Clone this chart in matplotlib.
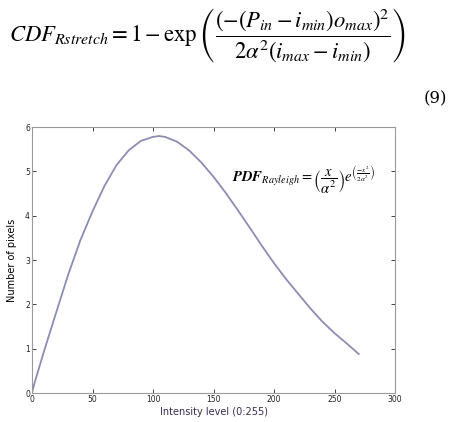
"""Rayleigh-shaped PDF curve with the CDF stretch equation above it."""

import matplotlib

matplotlib.use("Agg")
import matplotlib.pyplot as plt

plt.rcParams["mathtext.fontset"] = "stix"

INTENSITY = [0, 2, 10, 20, 30, 40, 50, 60, 70, 80, 90, 100, 105, 110, 120,
             130, 140, 150, 160, 170, 180, 190, 200, 210, 220, 230, 240,
             250, 260, 270]
PIXELS = [0.0, 0.22, 0.95, 1.82, 2.68, 3.45, 4.1, 4.68, 5.15, 5.48, 5.69,
          5.78, 5.80, 5.78, 5.67, 5.47, 5.2, 4.88, 4.52, 4.13, 3.73, 3.32,
          2.93, 2.57, 2.24, 1.91, 1.61, 1.35, 1.12, 0.88]

X_TICKS = [0, 50, 100, 150, 200, 250, 300]
Y_TICKS = [0, 1, 2, 3, 4, 5, 6]

LINE_COLOR = "#8c8cb4"
FRAME_COLOR = "#9a9a9a"


def main() -> None:
    fig = plt.figure(figsize=(4.49, 4.22), dpi=100)

    fig.text(
        0.02, 0.915,
        r"$\mathit{CDF}_{Rstretch} = 1 - \exp\left(\dfrac{(-(P_{in} - i_{min})o_{max})^2}"
        r"{2\alpha^2(i_{max} - i_{min})}\right)$",
        fontsize=16.3, va="center", ha="left",
    )
    fig.text(0.995, 0.765, "(9)", fontsize=12, ha="right", va="center",
             family="DejaVu Serif")

    ax = fig.add_axes([0.0713, 0.0687, 0.8085, 0.630])
    ax.plot(INTENSITY, PIXELS, color=LINE_COLOR, linewidth=1.3,
            solid_joinstyle="round")

    ax.set_xlim(0, 300)
    ax.set_ylim(0, 6)
    ax.set_xticks(X_TICKS)
    ax.set_yticks(Y_TICKS)
    ax.tick_params(direction="in", length=3, width=0.6, labelsize=5.5,
                   top=True, right=True, colors="#222222", pad=1.5)
    for spine in ax.spines.values():
        spine.set_color(FRAME_COLOR)
        spine.set_linewidth(0.8)

    ax.set_xlabel("Intensity level (0:255)", fontsize=7, labelpad=2,
                  color="#3a2a50")
    ax.set_ylabel("Number of pixels", fontsize=7, labelpad=6)

    ax.text(
        0.55, 0.80,
        r"$\boldsymbol{PDF}_{Rayleigh} = \left(\dfrac{x}{\alpha^2}\right)"
        r"e^{\left(\frac{-x^2}{2\alpha^2}\right)}$",
        transform=ax.transAxes, fontsize=10.5, ha="left", va="center",
    )

    fig.savefig("out.png", dpi=100)
    plt.close(fig)


if __name__ == "__main__":
    main()
